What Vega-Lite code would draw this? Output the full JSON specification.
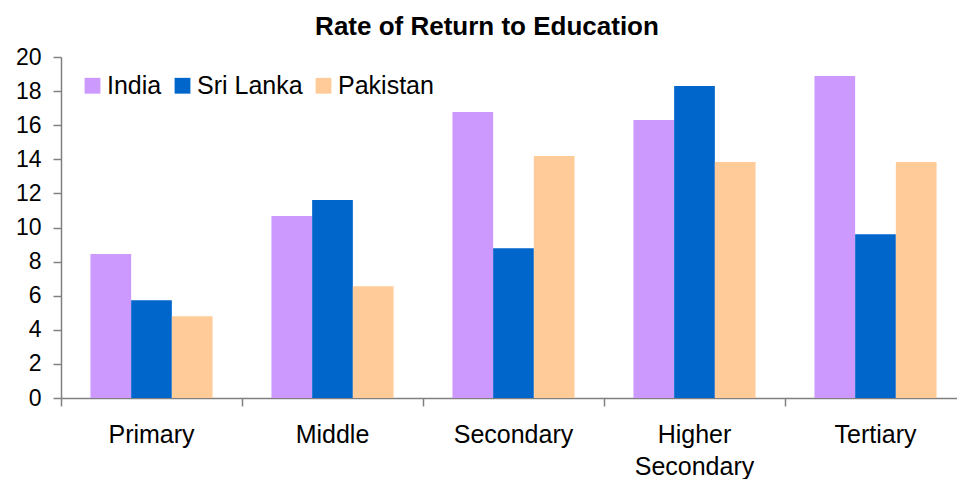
{
  "$schema": "https://vega.github.io/schema/vega-lite/v6.json",
  "width": 896,
  "height": 341,
  "autosize": "none",
  "padding": {"left": 61, "top": 57, "right": 0, "bottom": 81},
  "background": "white",
  "title": {
    "text": "Rate of Return to Education",
    "font": "Liberation Sans",
    "fontSize": 26,
    "fontWeight": "bold",
    "color": "black",
    "anchor": "middle",
    "dx": -22,
    "offset": 6
  },
  "data": {
    "values": [
      {"category": "Primary", "country": "India", "value": 8.45},
      {"category": "Primary", "country": "Sri Lanka", "value": 5.74},
      {"category": "Primary", "country": "Pakistan", "value": 4.8},
      {"category": "Middle", "country": "India", "value": 10.67},
      {"category": "Middle", "country": "Sri Lanka", "value": 11.61},
      {"category": "Middle", "country": "Pakistan", "value": 6.56},
      {"category": "Secondary", "country": "India", "value": 16.78},
      {"category": "Secondary", "country": "Sri Lanka", "value": 8.79},
      {"category": "Secondary", "country": "Pakistan", "value": 14.19},
      {"category": "Higher Secondary", "country": "India", "value": 16.31},
      {"category": "Higher Secondary", "country": "Sri Lanka", "value": 18.3},
      {"category": "Higher Secondary", "country": "Pakistan", "value": 13.84},
      {"category": "Tertiary", "country": "India", "value": 18.89},
      {"category": "Tertiary", "country": "Sri Lanka", "value": 9.61},
      {"category": "Tertiary", "country": "Pakistan", "value": 13.84}
    ]
  },
  "mark": {"type": "bar"},
  "encoding": {
    "x": {
      "field": "category",
      "type": "nominal",
      "sort": ["Primary", "Middle", "Secondary", "Higher Secondary", "Tertiary"],
      "scale": {"paddingInner": 0, "paddingOuter": 0, "range": [0, 905]},
      "axis": {
        "title": null,
        "labelAngle": 0,
        "bandPosition": 0,
        "labelFont": "Liberation Sans",
        "labelFontSize": 25,
        "labelColor": "black",
        "labelPadding": 16,
        "labelLineHeight": 32,
        "labelExpr": "datum.label == 'Higher Secondary' ? ['Higher', 'Secondary'] : datum.label",
        "domainColor": "#808080",
        "domainWidth": 1.5,
        "tickColor": "#808080",
        "tickWidth": 1.5,
        "tickSize": 8,
        "grid": false
      }
    },
    "xOffset": {
      "field": "country",
      "type": "nominal",
      "sort": ["India", "Sri Lanka", "Pakistan"],
      "scale": {"paddingInner": 0, "paddingOuter": 0.7236}
    },
    "y": {
      "field": "value",
      "type": "quantitative",
      "scale": {"domain": [0, 20], "nice": false},
      "axis": {
        "title": null,
        "values": [0, 2, 4, 6, 8, 10, 12, 14, 16, 18, 20],
        "labelFont": "Liberation Sans",
        "labelFontSize": 23,
        "labelColor": "black",
        "labelPadding": 12,
        "domainColor": "#808080",
        "domainWidth": 1.5,
        "tickColor": "#808080",
        "tickWidth": 1.5,
        "tickSize": 8,
        "grid": false
      }
    },
    "color": {
      "field": "country",
      "type": "nominal",
      "sort": ["India", "Sri Lanka", "Pakistan"],
      "scale": {
        "domain": ["India", "Sri Lanka", "Pakistan"],
        "range": ["#CC99FF", "#0066CC", "#FFCC99"]
      },
      "legend": {
        "title": null,
        "orient": "none",
        "legendX": 19,
        "legendY": 16,
        "direction": "horizontal",
        "symbolType": "square",
        "symbolSize": 250,
        "symbolStrokeWidth": 0,
        "symbolOpacity": 1,
        "labelFont": "Liberation Sans",
        "labelFontSize": 25,
        "labelColor": "black",
        "labelOffset": 2,
        "columnPadding": 8,
        "labelLimit": 300
      }
    }
  },
  "config": {
    "view": {"stroke": null},
    "axis": {"labelBound": false}
  }
}
